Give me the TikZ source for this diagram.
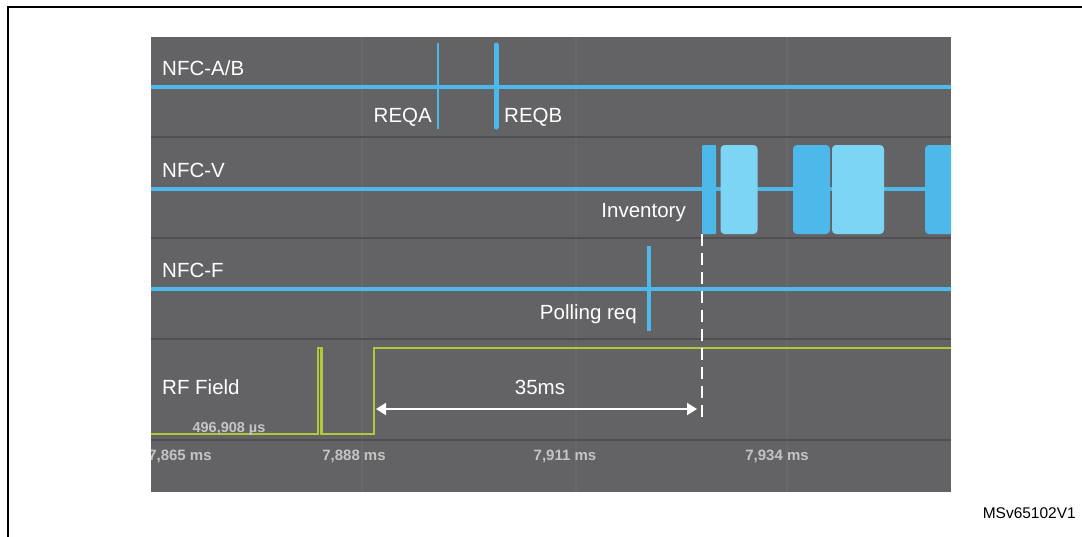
\documentclass[tikz,border=0pt]{standalone}
\usepackage{fontspec}
\setmainfont{Liberation Sans}
\usepackage{tikz}
\usetikzlibrary{arrows.meta, calc}
\definecolor{panel}{RGB}{99,99,101}
\definecolor{rowsep}{RGB}{80,80,82}
\definecolor{gridcol}{RGB}{105,105,107}
\definecolor{sigblue}{RGB}{77,185,234}
\definecolor{burstlight}{RGB}{125,213,246}
\definecolor{rfgreen}{RGB}{176,200,58}
\definecolor{ticktext}{RGB}{196,196,196}
\tikzset{
  signame/.style={anchor=base west, inner sep=0pt, text=white,
    font=\fontsize{20.5}{24}\selectfont},
  evname/.style={inner sep=0pt, text=white, font=\fontsize{20.5}{24}\selectfont},
  ticklabel/.style={anchor=base, inner sep=0pt, text=ticktext,
    font=\fontsize{15}{17}\selectfont\bfseries},
  signal/.style={draw=sigblue, line width=3.5pt},
  rf/.style={draw=rfgreen, line width=2.2pt},
  burst/.style={rectangle, inner sep=0pt, minimum height=89pt, fill=sigblue,
    rounded corners=4pt},
  burst light/.style={burst, fill=burstlight},
  span/.style={draw=white, line width=2pt,
    {Triangle[length=10pt,width=12pt]}-{Triangle[length=10pt,width=12pt]}},
  cutline/.style={draw=white, line width=1.8pt, dash pattern=on 12pt off 7pt},
}

\begin{document}
\begin{tikzpicture}[x=1pt, y=-1pt]
  \useasboundingbox (0,0) rectangle (1082,536);
  % frame
  \draw[line width=2pt] (8,560) -- (8,6.5) -- (1100,6.5);

  % analyzer panel
  \fill[panel] (151,37) rectangle (951,492);
  \foreach \x in {362,576,787}
    \draw[gridcol, line width=1.5pt] (\x,37) -- (\x,492);
  \foreach \y in {137,238,339,440}
    \draw[rowsep, line width=2.5pt] (151,\y) -- (951,\y);

  \begin{scope}
    \clip (151,37) rectangle (951,492);

    % NFC-A/B
    \draw[signal] (151,87) -- (951,87);
    \draw[sigblue, line width=2pt] (438,43) -- (438,129);
    \draw[sigblue, line width=5pt, line cap=round] (496,45) -- (496,127);
    \node[signame] (nfcab) at (162,75) {NFC-A/B};
    \node[evname, anchor=base east] (reqa) at (432,122) {REQA};
    \node[evname, anchor=base west] (reqb) at (504,122) {REQB};

    % NFC-V
    \draw[signal] (151,189) -- (951,189);
    \node[burst, minimum width=14pt, rounded corners=1pt] (b0) at (709,189.5) {};
    \node[burst light, minimum width=37pt] (b1) at (739,189.5) {};
    \node[burst, minimum width=37pt] (b2) at (811.5,189.5) {};
    \node[burst light, minimum width=52pt] (b3) at (858,189.5) {};
    \node[burst, minimum width=40pt] (b4) at (945,189.5) {};
    \node[signame] (nfcv) at (162,177) {NFC-V};
    \node[evname, anchor=base east] (inv) at (686,217) {Inventory};

    % NFC-F
    \draw[signal] (151,289) -- (951,289);
    \draw[sigblue, line width=3.5pt] (649,246) -- (649,331);
    \node[signame] (nfcf) at (162,277) {NFC-F};
    \node[evname, anchor=base east] (poll) at (637,319) {Polling req};

    % RF field
    \draw[rf] (151,434) -- (318,434) -- (318,348) -- (321.5,348)
      -- (321.5,434) -- (374,434) -- (374,348) -- (960,348);
    \node[signame] (rf) at (162,394) {RF Field};
    \node[ticklabel, font=\fontsize{14.5}{16}\selectfont\bfseries] (dur)
      at (229,432) {496,908 µs};

    % 35ms span
    \coordinate (t0) at (376,409);
    \coordinate (t1) at (697,409);
    \coordinate (cut) at (702,418);
    \draw[span] (t0) -- (t1);
    \node[evname, anchor=base] (gap) at (540,394) {35ms};
    \draw[cutline] (b0.south west) -- (b0.south west |- cut);

    % time axis
    \node[ticklabel] (tk1) at (180,460) {7,865 ms};
    \node[ticklabel] (tk2) at (354,460) {7,888 ms};
    \node[ticklabel] (tk3) at (565,460) {7,911 ms};
    \node[ticklabel] (tk4) at (777,460) {7,934 ms};
  \end{scope}

  \node[anchor=base east, inner sep=0pt, font=\fontsize{15.5}{18}\selectfont]
    (ref) at (1076,518) {MSv65102V1};
\end{tikzpicture}
\end{document}
